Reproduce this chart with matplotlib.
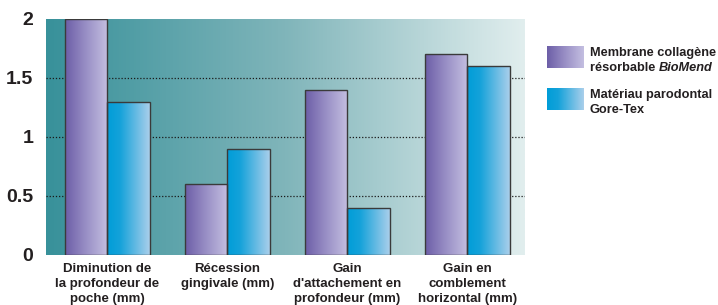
import numpy as np
import matplotlib
matplotlib.use("Agg")
import matplotlib.pyplot as plt
from matplotlib.colors import LinearSegmentedColormap
from matplotlib.patches import Rectangle

# -----------------------------
# Data
# -----------------------------
categories = [
    "Diminution de\nla profondeur de\npoche (mm)",
    "Récession\ngingivale (mm)",
    "Gain\nd'attachement en\nprofondeur (mm)",
    "Gain en\ncomblement\nhorizontal (mm)",
]
biomend = [2.0, 0.6, 1.4, 1.7]
goretex = [1.3, 0.9, 0.4, 1.6]
yticks = [0, 0.5, 1, 1.5, 2]
ytick_labels = ["0", "0.5", "1", "1.5", "2"]

TEXT = "#231f20"
plt.rcParams["font.family"] = ["Liberation Sans", "DejaVu Sans"]
plt.rcParams["font.weight"] = "bold"

bg_cmap = LinearSegmentedColormap.from_list("bg", ["#38919a", "#80b5ba", "#e1eeee"])
purple_cmap = LinearSegmentedColormap.from_list("pu", ["#6c5ea7", "#9a90c6", "#c4bfe1"])
blue_cmap = LinearSegmentedColormap.from_list("bl", [(0, "#009dd8"), (0.3, "#14a2da"), (1, "#aacfeb")])


def gradient_bar(ax, x0, width, height, cmap):
    rect = Rectangle((x0, 0), width, height, facecolor="none",
                     edgecolor="#3a3a3a", linewidth=1.0, zorder=4)
    ax.add_patch(rect)
    grad = np.linspace(0, 1, 256).reshape(1, -1)
    im = ax.imshow(grad, cmap=cmap, extent=[x0, x0 + width, 0, height],
                   aspect="auto", zorder=3, interpolation="bicubic")
    im.set_clip_path(rect)


fig = plt.figure(figsize=(7.18, 3.05), dpi=100)
ax = fig.add_axes([0.064, 0.164, 0.667, 0.774])

xlim = (-0.51, 3.48)
ylim = (0, 2.0)
x = np.arange(len(categories))
w = 0.354

# background gradient
bg = np.linspace(0, 1, 512).reshape(1, -1)
ax.imshow(bg, cmap=bg_cmap, extent=[xlim[0], xlim[1], ylim[0], ylim[1]],
          aspect="auto", zorder=0)

# dotted gridlines
for yv in [0.5, 1.0, 1.5]:
    ax.axhline(yv, color="#1a1a1a", linestyle=(0, (1, 1.5)), linewidth=0.9, zorder=1)

for i in range(len(categories)):
    gradient_bar(ax, x[i] - w, w, biomend[i], purple_cmap)
    gradient_bar(ax, x[i], w, goretex[i], blue_cmap)

ax.set_xlim(*xlim)
ax.set_ylim(*ylim)
ax.set_yticks(yticks)
ax.set_yticklabels(ytick_labels, fontsize=14, fontweight="bold", color=TEXT)
ax.set_xticks(x)
ax.set_xticklabels(categories, fontsize=9.5, fontweight="bold", color=TEXT,
                   linespacing=1.32)
ax.tick_params(axis="both", length=0)
ax.tick_params(axis="y", pad=9)
ax.tick_params(axis="x", pad=6)
for s in ax.spines.values():
    s.set_visible(False)


# legend
def legend_swatch(x0, y0, cmap):
    sax = fig.add_axes([x0, y0, 37 / 718, 22 / 305])
    sax.imshow(np.linspace(0, 1, 256).reshape(1, -1), cmap=cmap, aspect="auto")
    sax.axis("off")


legend_swatch(547 / 718, 1 - 68 / 305, purple_cmap)
legend_swatch(547 / 718, 1 - 110 / 305, blue_cmap)

lfs = 9.2
fig.text(590 / 718, 1 - 53 / 305, "Membrane collagène", fontsize=lfs,
         fontweight="bold", color=TEXT, va="center", ha="left")
t = fig.text(590 / 718, 1 - 68 / 305, "résorbable ", fontsize=lfs,
             fontweight="bold", color=TEXT, va="center", ha="left")
ax.annotate("BioMend", xy=(1, 0.5), xycoords=t, va="center", ha="left",
            fontsize=lfs, fontweight="bold", fontstyle="italic", color=TEXT)
fig.text(590 / 718, 1 - 95 / 305, "Matériau parodontal", fontsize=lfs,
         fontweight="bold", color=TEXT, va="center", ha="left")
fig.text(590 / 718, 1 - 110 / 305, "Gore-Tex", fontsize=lfs,
         fontweight="bold", color=TEXT, va="center", ha="left")

fig.savefig("out.png", dpi=100)
